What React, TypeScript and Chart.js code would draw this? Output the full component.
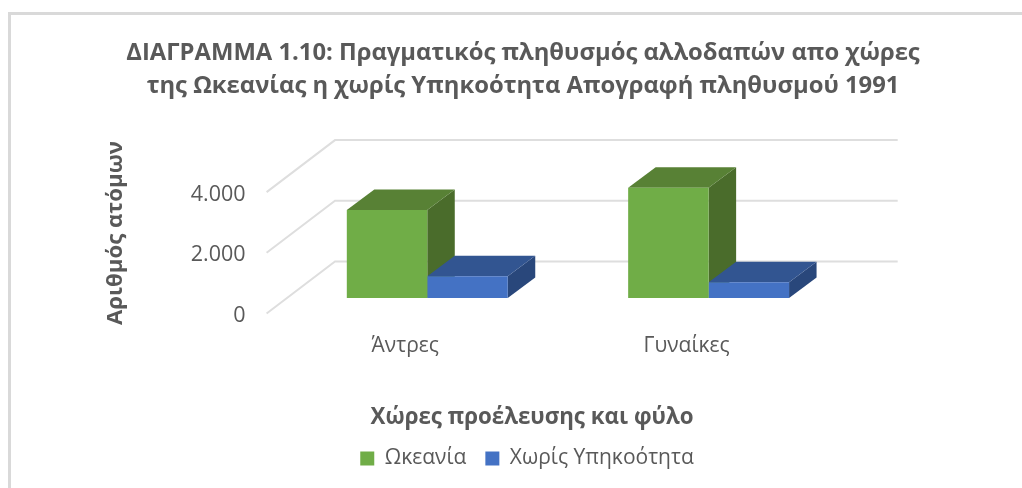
import React, { useEffect, useRef } from "react";
import { Chart, registerables } from "chart.js";

Chart.register(...registerables);

const categories = ["Άντρες", "Γυναίκες"];
const oceaniaValues = [2900, 3630];
const noCitizenshipValues = [720, 520];
const seriesNames = ["Ωκεανία", "Χωρίς Υπηκοότητα"];
const yTickLabels: Record<number, string> = { 0: "0", 2000: "2.000", 4000: "4.000" };
const titleLines = [
  "ΔΙΑΓΡΑΜΜΑ 1.10: Πραγματικός πληθυσμός αλλοδαπών απο χώρες",
  "της Ωκεανίας η χωρίς Υπηκοότητα Απογραφή πληθυσμού 1991",
];
const xAxisTitle = "Χώρες προέλευσης και φύλο";
const yAxisTitle = "Αριθμός ατόμων";

const FONT = '"Open Sans", "Noto Sans", sans-serif';
const TEXT = "#595959";
const GRID = "#dedede";
const BAR_DX = 27.5;
const BAR_DY = 20.5;
const FLOOR_BACK = { dx: 48.4, dy: 36.5 };
const FLOOR_FRONT = { dx: 20, dy: 15.5 };
const faces = [
  { top: "#588135", side: "#4a6c2b" },
  { top: "#325591", side: "#29477b" },
];

const poly = (ctx: CanvasRenderingContext2D, pts: number[][], fill: string) => {
  ctx.beginPath();
  pts.forEach(([x, y], i) => (i ? ctx.lineTo(x, y) : ctx.moveTo(x, y)));
  ctx.closePath();
  ctx.fillStyle = fill;
  ctx.fill();
};

const perspective = {
  id: "perspective",
  afterLayout(chart: any) {
    const { x, y } = chart.scales;
    // Recentre the titles and legend, which sit off the plot's centre in the original.
    const centre = (box: any, c: number, half: number) => {
      box.left = c - half;
      box.right = c + half;
    };
    centre(chart.titleBlock, 523, 480);
    centre(chart.legend, 527, 400);
    centre(x, 532, 200);
    x.bottom += 2;
    y.top = 233 - 90;
    y.bottom = 233 + 90;
  },
  beforeDatasetsDraw(chart: any) {
    const { ctx, chartArea, scales } = chart;
    const y = scales.y;
    ctx.save();
    ctx.strokeStyle = GRID;
    ctx.lineWidth = 2;
    y.ticks.forEach((t: any) => {
      const p = y.getPixelForValue(t.value);
      ctx.beginPath();
      ctx.moveTo(chartArea.left - FLOOR_FRONT.dx, p + FLOOR_FRONT.dy);
      ctx.lineTo(chartArea.left + FLOOR_BACK.dx, p - FLOOR_BACK.dy);
      ctx.lineTo(chartArea.right + FLOOR_BACK.dx, p - FLOOR_BACK.dy);
      ctx.stroke();
    });
    chart.data.datasets.forEach((_: any, d: number) => {
      chart.getDatasetMeta(d).data.forEach((bar: any) => {
        const { x: cx, y: top, base, width } = bar.getProps(["x", "y", "base", "width"]);
        const l = cx - width / 2;
        const r = cx + width / 2;
        poly(ctx, [[r, top], [r + BAR_DX, top - BAR_DY], [r + BAR_DX, base - BAR_DY], [r, base]], faces[d].side);
        poly(ctx, [[l, top], [l + BAR_DX, top - BAR_DY], [r + BAR_DX, top - BAR_DY], [r, top]], faces[d].top);
      });
    });
    ctx.restore();
  },
};

export default function App() {
  const ref = useRef<HTMLCanvasElement>(null);
  useEffect(() => {
    const chart = new Chart(ref.current!, {
      type: "bar",
      plugins: [perspective],
      data: {
        labels: categories,
        datasets: [
          { label: seriesNames[0], data: oceaniaValues, backgroundColor: "#70ad47", clip: false },
          { label: seriesNames[1], data: noCitizenshipValues, backgroundColor: "#4472c4", clip: false },
        ],
      },
      options: {
        responsive: false,
        animation: false,
        layout: { padding: { left: 102, right: 172.7, top: 0, bottom: 9 } },
        datasets: { bar: { categoryPercentage: 0.572, barPercentage: 1 } },
        plugins: {
          tooltip: { enabled: false },
          title: {
            display: true,
            text: titleLines,
            color: TEXT,
            font: { family: FONT, size: 23.8, weight: "bold", lineHeight: 1.42 },
            padding: { top: 36, bottom: 73 },
          },
          legend: {
            position: "bottom",
            labels: {
              color: TEXT,
              font: { family: FONT, size: 21 },
              boxWidth: 14,
              boxHeight: 14,
              padding: 19,
            },
          },
        },
        scales: {
          x: {
            grid: { display: false },
            border: { display: false },
            afterFit: (s: any) => { s.height = 131; },
            ticks: { color: TEXT, font: { family: FONT, size: 21 }, padding: 27, labelOffset: -22, maxRotation: 0 },
            title: {
              display: true,
              text: xAxisTitle,
              color: TEXT,
              font: { family: FONT, size: 22.3, weight: "bold" },
              padding: 0,
            },
          },
          y: {
            min: 0,
            max: 4000,
            grid: { display: false },
            border: { display: false },
            afterFit: (s: any) => { s.width = 184.6; },
            ticks: {
              stepSize: 2000,
              color: TEXT,
              font: { family: FONT, size: 21.5 },
              padding: 33,
              labelOffset: 18,
              callback: (v: any) => yTickLabels[v as number] ?? "",
            },
            title: {
              display: true,
              text: yAxisTitle,
              color: TEXT,
              font: { family: FONT, size: 22.2, weight: "bold" },
              padding: 0,
            },
          },
        },
      },
    } as any);
    return () => chart.destroy();
  }, []);
  return (
    <>
      <div
        style={{
          position: "fixed",
          left: 8,
          top: 12,
          width: 1100,
          height: 600,
          border: "3px solid #d9d9d9",
        }}
      />
      <canvas
        ref={ref}
        width={1022}
        height={488}
        style={{ position: "fixed", left: 0, top: 0, width: 1022, height: 488 }}
      />
    </>
  );
}
